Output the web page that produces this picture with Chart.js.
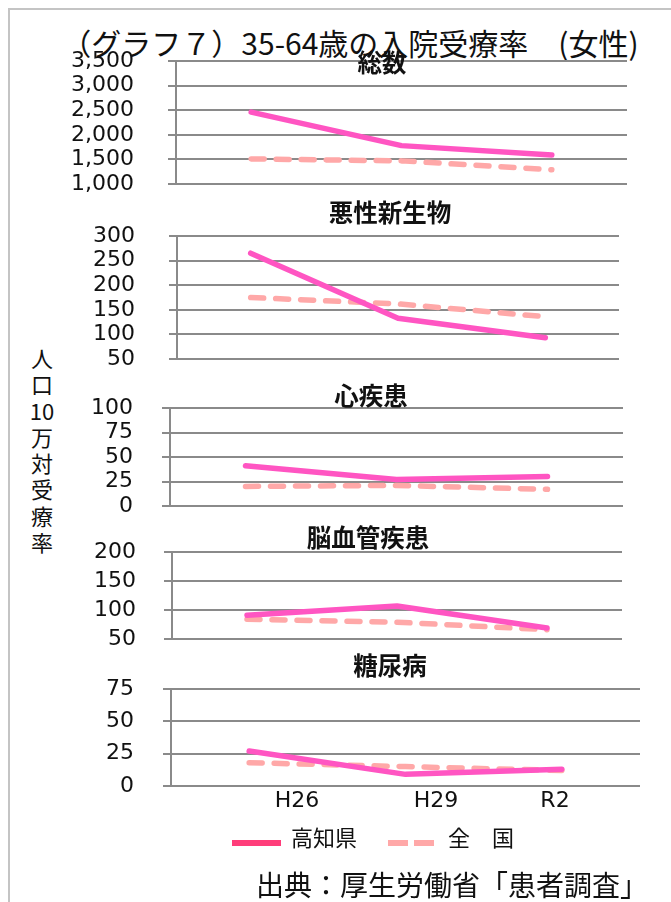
<!DOCTYPE html>
<html lang="ja">
<head>
<meta charset="utf-8">
<title>グラフ７</title>
<script src="https://cdn.jsdelivr.net/npm/chart.js@4.4.1/dist/chart.umd.min.js"></script>
<style>
	html, body { margin: 0; padding: 0; background: #fff; }
	body { width: 671px; height: 902px; position: relative; overflow: hidden; font-family: "Noto Sans CJK JP", sans-serif; color: #111; }
	.frame { position: absolute; left: 8px; top: 8px; width: 700px; height: 900px; border-top: 2px solid #c4c4c4; border-left: 2px solid #c4c4c4; }
	.panel { position: absolute; left: 0; }
	.txt { position: absolute; white-space: nowrap; transform: translate(-50%, -50%); line-height: 1; }
	.ptitle { font-weight: bold; font-size: 24.5px; }
	#mainTitle { font-size: 30px; }
	#yTitle { position: absolute; left: 42px; top: 344px; transform: translateX(-50%); font-size: 22px; line-height: 26.3px; text-align: center; }
	.xlab { font-family: "DejaVu Sans", sans-serif; font-size: 22px; }
	#legend { position: absolute; left: 0; top: 0; }
	.legtxt { position: absolute; font-size: 22px; line-height: 1; transform: translateY(-50%); white-space: nowrap; }
	#source { position: absolute; left: 256px; top: 884px; transform: translateY(-50%); font-size: 28px; line-height: 1; white-space: nowrap; }
</style>
</head>
<body>
<div class="frame"></div>
<div id="mainTitle" class="txt" style="left:350px; top:42px;">（グラフ７）35-64歳の入院受療率　(女性)</div>
<div id="yTitle">人<br>口<br>10<br>万<br>対<br>受<br>療<br>率</div>
<div id="panels"></div>
<div id="xLabels"></div>
<svg id="legend" width="671" height="902">
	<line x1="232" y1="843" x2="281" y2="843" stroke="#ff3d7a" stroke-width="6"></line>
	<line x1="388" y1="843" x2="434" y2="843" stroke="#ffa8a8" stroke-width="6" stroke-dasharray="20 6"></line>
</svg>
<div class="legtxt" id="leg1" style="left:291px; top:836px;"></div>
<div class="legtxt" id="leg2" style="left:448px; top:836px;"></div>
<div id="source">出典：厚生労働省「患者調査」</div>

<script>
const years = ["H26", "H29", "R2"];
const seriesNames = ["高知県", "全　国"];

// 総数
const totalKochi = [2460, 1780, 1590];
const totalJapan = [1510, 1470, 1290];
// 悪性新生物
const cancerKochi = [265, 133, 93];
const cancerJapan = [175, 162, 136];
// 心疾患
const heartKochi = [41, 27, 30];
const heartJapan = [20, 21, 17];
// 脳血管疾患
const strokeKochi = [91, 107, 69];
const strokeJapan = [84, 79, 66];
// 糖尿病
const diabetesKochi = [27, 9, 13];
const diabetesJapan = [18, 15, 12];

const panelTitles = ["総数", "悪性新生物", "心疾患", "脳血管疾患", "糖尿病"];
const yMin = [1000, 50, 0, 50, 0];
const yMax = [3500, 300, 100, 200, 75];
const yStep = [500, 50, 25, 50, 25];

const KOCHI_COLOR = "#ff55c2";
const JAPAN_COLOR = "#ffa8a8";
const GRID_COLOR = "#8a8a8a";

// plot boxes: left, right, top, bottom, label gap, title x, title y
const boxes = [
	{ l: 176, r: 627, t: 61, b: 184, pad: 34, tx: 382, ty: 62 },
	{ l: 177, r: 619, t: 236, b: 359, pad: 34, tx: 390, ty: 212 },
	{ l: 170, r: 623, t: 408, b: 506, pad: 29, tx: 371, ty: 395 },
	{ l: 172, r: 622, t: 552, b: 639, pad: 28, tx: 368, ty: 537 },
	{ l: 171, r: 640, t: 689, b: 786, pad: 29, tx: 390, ty: 665 }
];
const xLabelPos = [297, 436, 555];

const kochiData = [totalKochi, cancerKochi, heartKochi, strokeKochi, diabetesKochi];
const japanData = [totalJapan, cancerJapan, heartJapan, strokeJapan, diabetesJapan];

const panelsEl = document.getElementById("panels");

function makePanel(i) {
	const box = boxes[i];
	// tick padding is also added above/below the axis, so keep a big margin
	const extra = 60;

	const wrap = document.createElement("div");
	wrap.className = "panel";
	wrap.style.top = (box.t - extra) + "px";
	wrap.style.width = "671px";
	wrap.style.height = (box.b - box.t + extra * 2) + "px";
	const canvas = document.createElement("canvas");
	wrap.appendChild(canvas);
	panelsEl.appendChild(wrap);

	const title = document.createElement("div");
	title.className = "txt ptitle";
	title.style.left = box.tx + "px";
	title.style.top = box.ty + "px";
	title.textContent = panelTitles[i];
	document.body.appendChild(title);

	new Chart(canvas, {
		type: "line",
		data: {
			labels: years,
			datasets: [
				{
					label: seriesNames[0],
					data: kochiData[i],
					borderColor: KOCHI_COLOR,
					backgroundColor: KOCHI_COLOR,
					borderWidth: 5.5,
					borderCapStyle: "round",
					borderJoinStyle: "round",
					pointRadius: 0,
					tension: 0,
					order: 0
				},
				{
					label: seriesNames[1],
					data: japanData[i],
					borderColor: JAPAN_COLOR,
					backgroundColor: JAPAN_COLOR,
					borderWidth: 5.5,
					borderDash: [13, 12],
					borderCapStyle: "round",
					borderJoinStyle: "round",
					pointRadius: 0,
					tension: 0,
					order: 1
				}
			]
		},
		options: {
			responsive: true,
			maintainAspectRatio: false,
			animation: false,
			layout: {
				padding: { left: 0, right: 671 - box.r, top: extra, bottom: extra }
			},
			plugins: {
				legend: { display: false },
				tooltip: { enabled: false },
				title: { display: false }
			},
			scales: {
				x: {
					offset: true,
					grid: { display: false },
					border: { display: false },
					ticks: { display: false },
					afterFit: (s) => { s.height = 0; }
				},
				y: {
					min: yMin[i],
					max: yMax[i],
					grid: { color: GRID_COLOR, lineWidth: 2, tickLength: 8, drawTicks: true },
					border: { display: true, color: GRID_COLOR, width: 2 },
					ticks: {
						stepSize: yStep[i],
						autoSkip: false,
						padding: box.pad,
						color: "#111",
						font: { family: "DejaVu Sans", size: 22, lineHeight: 1 },
						callback: (v) => Number(v).toLocaleString("en-US")
					},
					afterFit: (s) => { s.width = box.l; }
				}
			}
		}
	});
}

for (let i = 0; i < panelTitles.length; i++) {
	makePanel(i);
}

// category labels under the last panel
const xLabelsEl = document.getElementById("xLabels");
years.forEach((y, k) => {
	const d = document.createElement("div");
	d.className = "txt xlab";
	d.style.left = xLabelPos[k] + "px";
	d.style.top = "800px";
	d.textContent = y;
	xLabelsEl.appendChild(d);
});

document.getElementById("leg1").textContent = seriesNames[0];
document.getElementById("leg2").textContent = seriesNames[1];
</script>
</body>
</html>
